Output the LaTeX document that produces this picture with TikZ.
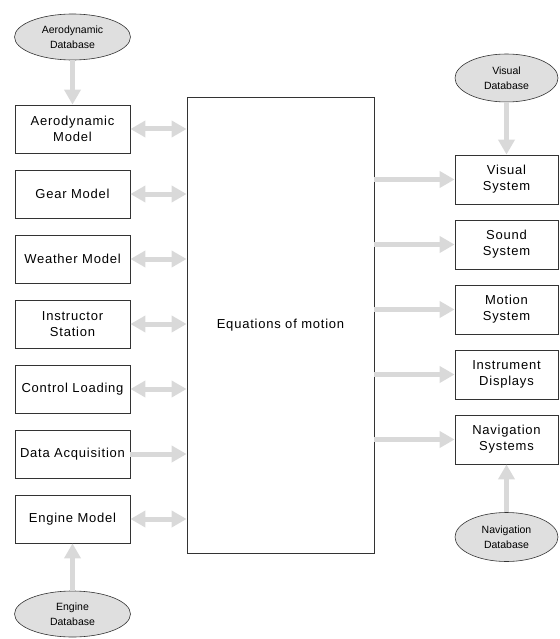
\documentclass[tikz,border=0pt]{standalone}
\usepackage{fontspec}
\setmainfont{Liberation Sans}
\newfontfamily\blockfont[LetterSpace=6]{Liberation Sans}
\usepackage{tikz}
\usetikzlibrary{arrows.meta,positioning,shapes.geometric}

\begin{document}
\begin{tikzpicture}[
      block/.style={rectangle,draw=black!80,line width=0.8pt,fill=white,align=center,
        font=\blockfont\fontsize{13}{16}\selectfont,minimum width=115pt,minimum height=48pt,inner sep=0pt},
      rblock/.style={block,minimum width=103pt,minimum height=49pt},
      dbase/.style={ellipse,draw=black!80,line width=0.6pt,fill=gray!25,align=center,
        font=\fontsize{10.5}{15}\selectfont,minimum width=116pt,minimum height=46pt,inner sep=0pt},
      flow/.style={draw=gray!30,line width=5pt,-{Triangle[length=15pt,width=16pt]}},
      biflow/.style={flow,{Triangle[length=15pt,width=16pt]}-{Triangle[length=15pt,width=16pt]}}
      ]
      \useasboundingbox (0,0) rectangle (559pt,-639pt);
      \begin{scope}[node distance=65pt,on grid]

        \node[block, minimum width=187pt, minimum height=456pt] (eqm) at (280.5pt,-325pt) {Equations of motion};

        % left column
        \node[block] (aero_model) at (72.5pt,-129pt) {Aerodynamic\\Model};
        \node[block, below=of aero_model] (gear_model) {Gear Model};
        \node[block, below=of gear_model] (weather_model) {Weather Model};
        \node[block, below=of weather_model] (instr_station) {Instructor\\Station};
        \node[block, below=of instr_station] (ctrl_loading) {Control Loading};
        \node[block, below=of ctrl_loading] (data_acq) {Data Acquisition};
        \node[block, below=of data_acq] (engine_model) {Engine Model};
        \node[dbase, above=92pt of aero_model] (aero_db) {Aerodynamic\\Database};
        \node[dbase, below=95pt of engine_model] (engine_db) {Engine\\Database};

        % right column
        \node[rblock] (visual_sys) at (506.5pt,-179.5pt) {Visual\\System};
        \node[rblock, below=of visual_sys] (sound_sys) {Sound\\System};
        \node[rblock, below=of sound_sys] (motion_sys) {Motion\\System};
        \node[rblock, below=of motion_sys] (instr_disp) {Instrument\\Displays};
        \node[rblock, below=of instr_disp] (nav_sys) {Navigation\\Systems};
        \node[dbase, minimum width=103pt, minimum height=48pt, above=101.5pt of visual_sys] (visual_db) {Visual\\Database};
        \node[dbase, minimum width=103pt, minimum height=49pt, below=97.5pt of nav_sys] (nav_db) {Navigation\\Database};
      \end{scope}

      \foreach \m in {aero_model,gear_model,weather_model,instr_station,ctrl_loading,engine_model}
        \draw[biflow] (\m.east) -- (\m.east -| eqm.west);
      \draw[flow] (data_acq.east) -- (data_acq.east -| eqm.west);

      \foreach \s in {visual_sys,sound_sys,motion_sys,instr_disp,nav_sys}
        \draw[flow] (\s.west -| eqm.east) -- (\s.west);

      \draw[flow] (aero_db) -- (aero_model);
      \draw[flow] (engine_db) -- (engine_model);
      \draw[flow] (visual_db) -- (visual_sys);
      \draw[flow] (nav_db) -- (nav_sys);

\end{tikzpicture}
\end{document}
